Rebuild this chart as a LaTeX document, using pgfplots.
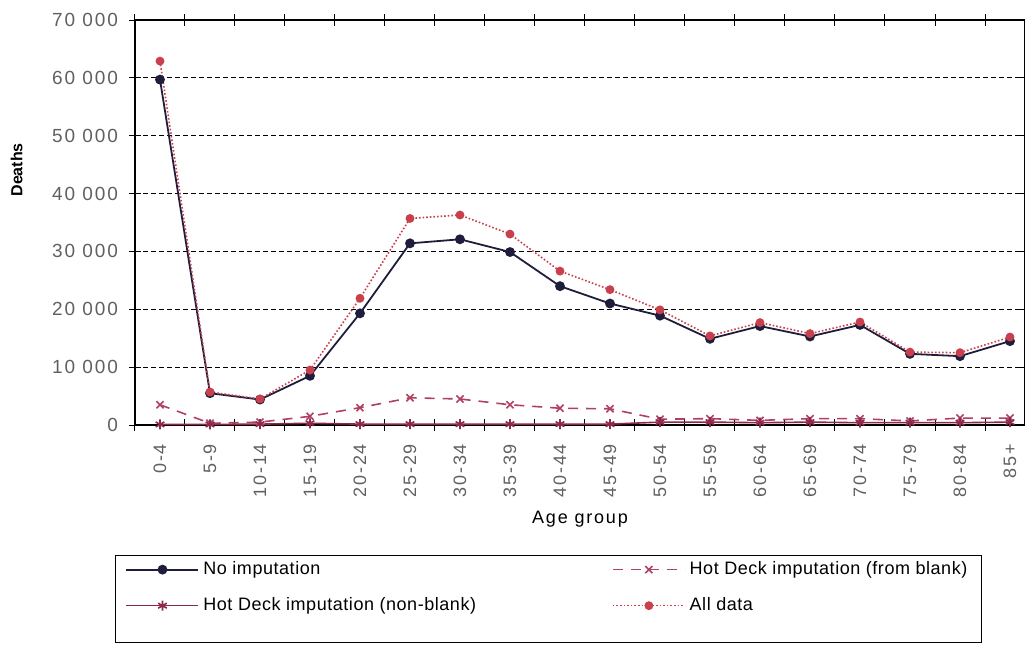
\documentclass[border=0pt]{standalone}
\usepackage{fontspec}
\setmainfont{Liberation Sans}
\usepackage{pgfplots}
\usepackage{pgfplotstable}
\pgfplotsset{compat=1.18}
\definecolor{navyblk}{HTML}{1E1E3C}
\definecolor{alldata}{HTML}{C8404C}
\definecolor{hdblank}{HTML}{B04060}
\definecolor{hdnon}{HTML}{8C2A4C}
\definecolor{tickgray}{HTML}{606060}
\newfontfamily\spaced[LetterSpace=10]{Liberation Sans}
\newfontfamily\legspaced[LetterSpace=3]{Liberation Sans}

\pgfplotstableread{
x noimp blank nonblank all
0  59700 3500 100 62900
1  5500  300  100 5700
2  4400  500  150 4500
3  8500  1500 300 9500
4  19300 3000 150 21900
5  31400 4700 150 35700
6  32100 4500 150 36300
7  29900 3500 150 33000
8  24000 2900 150 26600
9  21000 2800 150 23400
10 18900 1000 500 19900
11 14900 1100 500 15400
12 17100 800  400 17700
13 15300 1100 500 15800
14 17300 1100 400 17800
15 12300 700  400 12600
16 11900 1200 400 12500
17 14500 1200 500 15200
}\deaths

\begin{document}
\begin{tikzpicture}
\begin{axis}[
  at={(0,0)}, anchor=south west,
  scale only axis, width=445pt, height=202.5pt,
  xmin=-0.5, xmax=17.3, ymin=0, ymax=70000,
  xtick={0,...,17},
  xticklabels={0-4,5-9,10-14,15-19,20-24,25-29,30-34,35-39,40-44,45-49,50-54,55-59,60-64,65-69,70-74,75-79,80-84,85+},
  minor xtick={-0.5,0.5,...,17.5},
  major x tick style={draw=none},
  ytick={0,10000,...,70000},
  tick align=center,
  major tick length=6pt, minor tick length=6pt,
  tick style={black, line width=0.5pt},
  ymajorgrids,
  grid style={black, dash pattern=on 2.5pt off 1.5pt, line width=0.4pt},
  axis line style={black, line width=0.6pt},
  /pgf/number format/1000 sep={\ },
  /pgf/number format/assume math mode=true,
  yticklabel style={font=\spaced\fontsize{9.5}{10}\selectfont, text=tickgray, xshift=-2pt},
  xticklabel style={font=\spaced\fontsize{9}{10}\selectfont, text=tickgray, rotate=90, anchor=east, xshift=-3pt},
  scaled y ticks=false,
  ylabel={\textbf{Deaths}},
  ylabel style={font=\fontsize{8}{9}\selectfont, at={(ticklabel cs:0.63)}, yshift=8pt},
  xlabel={Age group},
  xlabel style={font=\spaced\fontsize{9}{10}\selectfont, yshift=0pt},
  legend columns=2,
  legend cell align=left,
  legend style={at={(axis description cs:0,0)}, anchor=north west, xshift=-10pt, yshift=-65pt,
    font=\legspaced\fontsize{9}{10}\selectfont, draw=black, line width=0.6pt,
    inner xsep=5pt, inner ysep=1pt, row sep=6pt,
    /tikz/every even column/.append style={column sep=66pt}},
  legend image code/.code={\draw[mark repeat=2,mark phase=2,#1] plot coordinates {(0pt,0pt) (18pt,0pt) (36pt,0pt)};},
]
\addplot[navyblk, line width=0.9pt, mark=*, mark size=2pt, mark options={solid}] table[x=x,y=noimp]{\deaths};
\addlegendentry{No imputation}
\addplot[hdblank, line width=0.8pt, dash pattern=on 5pt off 4pt, mark=x, mark size=2.5pt, mark options={solid, line width=0.8pt}] table[x=x,y=blank]{\deaths};
\addlegendentry{Hot Deck imputation (from blank)}
\addplot[hdnon, line width=0.8pt, mark=asterisk, mark size=2.5pt, mark options={solid, line width=0.8pt}] table[x=x,y=nonblank]{\deaths};
\addlegendentry{Hot Deck imputation (non-blank)}
\addplot[alldata, line width=0.8pt, densely dotted, mark=*, mark size=1.8pt, mark options={solid}] table[x=x,y=all]{\deaths};
\addlegendentry{All data}
\addlegendimage{empty legend}\addlegendentry{}
\addlegendimage{empty legend}\addlegendentry{}
\end{axis}
\pgfresetboundingbox
\useasboundingbox (-67.5pt,-110pt) rectangle (445pt,212.5pt);
\end{tikzpicture}
\end{document}
